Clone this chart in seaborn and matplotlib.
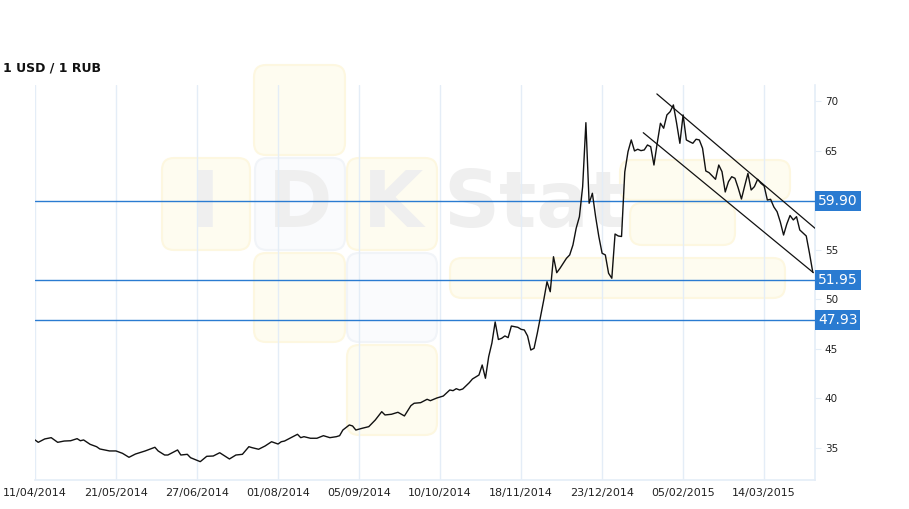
import matplotlib
matplotlib.use("Agg")
import matplotlib.pyplot as plt
import matplotlib.transforms as mtransforms
from matplotlib.patches import FancyBboxPatch
import pandas as pd
import seaborn as sns

# trading-day index (ticks every 25 sessions) and USD/RUB rate
day_idx = [0, 1, 3, 5, 7, 9, 11, 13, 14, 15, 17, 19, 20, 23, 25, 27, 29, 31, 34, 37,
           38, 40, 41, 44, 45, 47, 48, 51, 53, 55, 57, 60, 62, 64, 66, 67, 69, 71, 73, 75,
           76, 77, 79, 81, 82, 83, 85, 87, 89, 91, 93, 94, 95, 97, 98, 99, 101, 103, 105, 107,
           108, 110, 112, 114, 116, 117, 119, 121, 122, 124, 126, 128, 129, 130, 131, 132, 134, 135, 137, 138,
           139, 140, 141, 142, 143, 144, 145, 146, 147, 149, 150, 151, 152, 153, 154, 155, 156, 157, 158, 159,
           160, 161, 162, 163, 164, 165, 166, 167, 168, 169, 170, 171, 172, 173, 174, 175, 176, 177, 178, 179,
           180, 181, 182, 183, 184, 185, 186, 187, 188, 189, 190, 191, 192, 193, 194, 195, 196, 197, 198, 199,
           200, 201, 202, 203, 204, 205, 206, 207, 208, 209, 210, 211, 212, 213, 214, 215, 216, 217, 218, 219,
           220, 221, 222, 223, 224, 225, 226, 227, 228, 229, 230, 231, 232, 233, 234, 235, 236, 237, 238, 239,
           240]
rate = [35.81, 35.57, 35.91, 36.04, 35.57, 35.70, 35.73, 35.94, 35.73, 35.81, 35.37, 35.13, 34.90, 34.70, 34.70, 34.46, 34.06, 34.39, 34.70, 35.07,
        34.70, 34.29, 34.29, 34.80, 34.29, 34.36, 34.02, 33.62, 34.16, 34.19, 34.52, 33.89, 34.29, 34.36, 35.13, 35.03, 34.87, 35.20, 35.63, 35.40,
        35.63, 35.70, 36.04, 36.38, 36.04, 36.14, 35.98, 35.98, 36.24, 36.04, 36.14, 36.24, 36.81, 37.32, 37.22, 36.81, 36.99, 37.15, 37.82, 38.66,
        38.33, 38.40, 38.60, 38.23, 39.27, 39.51, 39.57, 39.91, 39.77, 40.04, 40.24, 40.85, 40.78, 40.98, 40.85, 40.95, 41.58, 41.96, 42.36, 43.37,
        42.03, 44.21, 45.59, 47.71, 45.94, 46.06, 46.30, 46.13, 47.30, 47.17, 46.97, 46.90, 46.30, 44.88, 45.05, 46.57, 48.24, 49.93, 51.77, 50.76,
        54.29, 52.68, 53.12, 53.63, 54.13, 54.47, 55.47, 57.16, 58.33, 61.36, 67.81, 59.68, 60.69, 58.33, 56.31, 54.64, 54.47, 52.62, 52.12, 56.58,
        56.38, 56.33, 62.84, 64.89, 66.07, 64.96, 65.13, 64.99, 65.06, 65.56, 65.39, 63.54, 65.73, 67.75, 67.25, 68.59, 68.92, 69.60, 67.75, 65.73,
        68.59, 66.07, 65.89, 65.73, 66.14, 66.07, 65.23, 62.94, 62.77, 62.43, 62.10, 63.54, 62.87, 60.82, 61.86, 62.36, 62.20, 61.22, 60.11, 61.43,
        62.69, 61.02, 61.36, 62.10, 61.70, 61.43, 60.01, 60.08, 59.31, 58.83, 57.79, 56.48, 57.59, 58.45, 58.00, 58.33, 56.99, 56.69, 56.38, 54.64,
        52.75]

tick_idx = [0, 25, 50, 75, 100, 125, 150, 175, 200, 225]
tick_labels = ["11/04/2014", "21/05/2014", "27/06/2014", "01/08/2014", "05/09/2014",
               "10/10/2014", "18/11/2014", "23/12/2014", "05/02/2015", "14/03/2015"]

# 60 is hidden behind the 59.90 marker in the original
y_ticks = [35, 40, 45, 50, 55, 65, 70]

levels = [59.90, 51.95, 47.93]

# descending channel drawn on the chart
upper_x = [191.9, 240.7]
upper_y = [70.71, 57.16]
lower_x = [187.7, 240.2]
lower_y = [66.80, 52.68]

BLUE = "#2a7bd1"
GRID = "#e4edf7"

sns.set_style("white")
plt.rcParams["font.family"] = ["DejaVu Sans"]

fig = plt.figure(figsize=(9.09, 5.09), dpi=100)
ax = fig.add_axes([35 / 909, 1 - 480 / 509, 780 / 909, 395 / 509])
ax.set_facecolor("none")
ax.set_zorder(1)

# faint "IDK Stat" watermark, positioned in inches (pixels / 100)
px = fig.dpi_scale_trans
def box(x0, y0, x1, y1, fc, ec):
    p = FancyBboxPatch((x0 / 100, (509 - y1) / 100), (x1 - x0) / 100, (y1 - y0) / 100,
                       boxstyle="round,pad=0,rounding_size=0.12", fc=fc, ec=ec, lw=1.5,
                       transform=px, zorder=-2, clip_on=False)
    fig.add_artist(p)

yel, yel_e = "#fefcf0", "#fdf7e0"
wht, wht_e = "#fafbfd", "#f1f4f8"
box(254, 65, 345, 155, yel, yel_e)
box(162, 158, 250, 250, yel, yel_e)
box(255, 158, 345, 250, wht, wht_e)
box(347, 158, 437, 250, yel, yel_e)
box(254, 253, 345, 342, yel, yel_e)
box(347, 253, 437, 342, wht, wht_e)
box(347, 345, 437, 435, yel, yel_e)
box(450, 258, 785, 298, yel, yel_e)
box(620, 160, 790, 200, yel, yel_e)
box(630, 203, 735, 245, yel, yel_e)
for tx, t in [(205, "I"), (300, "D"), (393, "K"), (535, "Stat")]:
    fig.text(tx / 909, 1 - 205 / 509, t, ha="center", va="center", fontsize=56,
             fontweight="bold", color="#efefef", zorder=-1)

df = pd.DataFrame({"day": day_idx, "rate": rate})
sns.lineplot(data=df, x="day", y="rate", ax=ax, color="#111111", linewidth=1.0, zorder=4)
sns.lineplot(x=upper_x, y=upper_y, ax=ax, color="#111111", linewidth=0.9, zorder=4)
sns.lineplot(x=lower_x, y=lower_y, ax=ax, color="#111111", linewidth=0.9, zorder=4)

label_tr = mtransforms.blended_transform_factory(ax.transAxes, ax.transData)
for lv in levels:
    ax.axhline(lv, color=BLUE, linewidth=1.0, zorder=3)
    ax.text(1.004, lv, f"{lv:.2f}", transform=label_tr, ha="left", va="center",
            fontsize=10, color="white", clip_on=False, zorder=6,
            bbox=dict(boxstyle="square,pad=0.2", fc=BLUE, ec="none"))

ax.set_xlim(0, 240.7)
ax.set_ylim(31.77, 71.61)
ax.set_xticks(tick_idx)
ax.set_xticklabels(tick_labels)
ax.set_yticks(y_ticks)
ax.yaxis.tick_right()
ax.grid(axis="x", color=GRID, linewidth=1.0, zorder=1)
ax.grid(axis="y", visible=False)
ax.set_axisbelow(True)
ax.tick_params(axis="x", length=3, color=GRID, labelsize=8, labelcolor="#222222", pad=3)
ax.tick_params(axis="y", length=4, color=GRID, labelsize=7.5, labelcolor="#222222", pad=3)
ax.set_xlabel("")
ax.set_ylabel("")
for side in ["left", "top"]:
    ax.spines[side].set_visible(False)
for side in ["bottom", "right"]:
    ax.spines[side].set_color(GRID)
    ax.spines[side].set_linewidth(1.2)

fig.text(3 / 909, 1 - 68 / 509, "1 USD / 1 RUB", ha="left", va="center",
         fontsize=9, fontweight="bold", color="#111111")

fig.savefig("out.png", dpi=100)
